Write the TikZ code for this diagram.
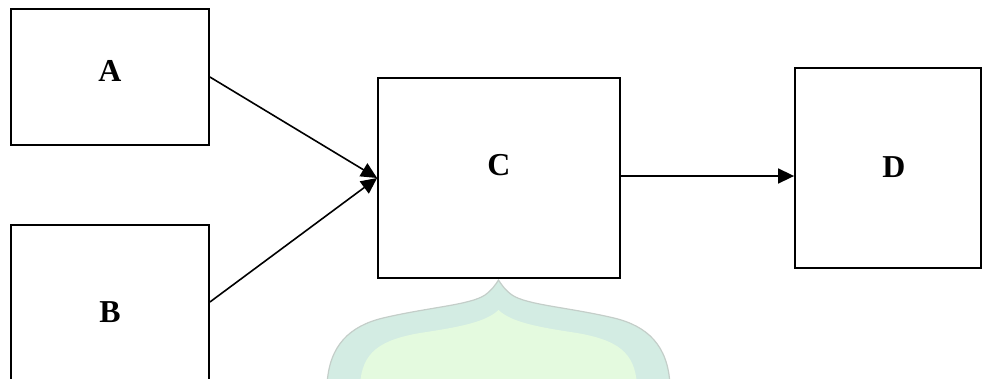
\documentclass[tikz,border=0pt]{standalone}
\usepackage{fontspec}
\setmainfont{Liberation Serif}
\usetikzlibrary{arrows.meta}
\definecolor{wmband}{HTML}{D3ECE3}
\definecolor{wmedge}{HTML}{C4CEC9}
\definecolor{wminner}{HTML}{E4FADF}
\tikzset{
  box/.style={draw=black, line width=1.8bp, minimum width=#1, inner sep=0pt},
  lbl/.style={font=\fontsize{32}{38}\selectfont\bfseries, inner sep=0pt},
  arr/.style={line width=1.6bp, -{Triangle[length=16bp,width=15bp]}}
}
\begin{document}
\begin{tikzpicture}[x=1bp,y=-1bp]
\useasboundingbox (0,0) rectangle (982,378);
\begin{scope}
\clip (0,0) rectangle (982,378);
% faint watermark
\fill[wmband, draw=wmedge, line width=1.2bp] (327,385) .. controls (329,345) and (350,326) .. (383,318) .. controls (430,307) and (470,305) .. (485,295) .. controls (492,290) and (496,284) .. (498.5,280) .. controls (501,284) and (505,290) .. (512,295) .. controls (527,305) and (567,307) .. (614,318) .. controls (647,326) and (668,345) .. (670,385) -- cycle;
\fill[wminner] (360,385) .. controls (362,352) and (380,340) .. (420,333) .. controls (460,327) and (486,322) .. (498.5,310) .. controls (511,322) and (537,327) .. (577,333) .. controls (617,340) and (635,352) .. (637,385) -- cycle;
% boxes
\node[box=198bp, minimum height=136bp] (A) at (110,77) {};
\node[box=198bp, minimum height=174bp] (B) at (110,312) {};
\node[box=242bp, minimum height=200bp] (C) at (499,178) {};
\node[box=186bp, minimum height=200bp] (D) at (888,168) {};
\end{scope}
\node[lbl] (la) at (110,71) {A};
\node[lbl] (lb) at (110,312) {B};
\node[lbl] (lc) at (499,165) {C};
\node[lbl] (ld) at (894,167) {D};
\draw[arr] (A.east) -- (C.west);
\draw[arr] ([yshift=10bp]B.east) -- (C.west);
\draw[arr] ([yshift=2bp]C.east) -- ([yshift=2bp]C.east -| D.west);
\end{tikzpicture}
\end{document}
